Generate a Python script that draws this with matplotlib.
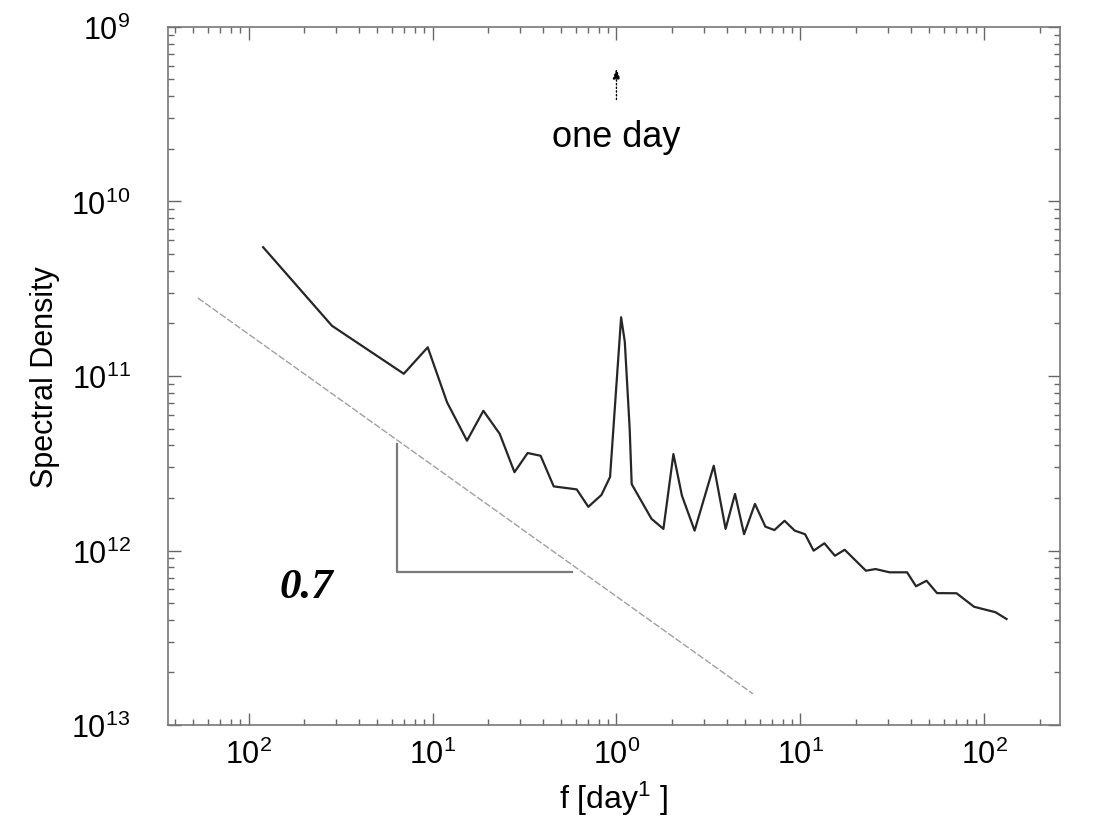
"""Spectral density vs frequency, log-log, with a 0.7 slope guide."""

import matplotlib

matplotlib.use("Agg")
import matplotlib.pyplot as plt
from matplotlib.ticker import FixedFormatter, FixedLocator, LogLocator, NullFormatter

# spectrum: frequency [1/day], spectral density
freq = [
    0.0120, 0.0284, 0.0698, 0.0942, 0.120, 0.154, 0.189, 0.232, 0.279, 0.329,
    0.387, 0.456, 0.608, 0.703, 0.828, 0.923, 0.996, 1.06, 1.11, 1.18,
    1.21, 1.55, 1.80, 2.04, 2.27, 2.66, 3.38, 3.92, 4.41, 4.94,
    5.66, 6.45, 7.22, 8.20, 9.31, 10.6, 11.8, 13.5, 15.4, 17.4,
    22.7, 25.6, 30.5, 38.0, 42.5, 48.5, 55.3, 70.6, 87.9, 115, 132,
]
density = [
    5.47e-11, 1.94e-11, 1.03e-11, 1.46e-11, 7.06e-12, 4.26e-12, 6.32e-12, 4.66e-12, 2.81e-12, 3.62e-12,
    3.49e-12, 2.33e-12, 2.24e-12, 1.78e-12, 2.08e-12, 2.64e-12, 8.43e-12, 2.17e-11, 1.57e-11, 4.97e-12,
    2.40e-12, 1.52e-12, 1.33e-12, 3.57e-12, 2.06e-12, 1.30e-12, 3.06e-12, 1.33e-12, 2.11e-12, 1.24e-12,
    1.85e-12, 1.37e-12, 1.31e-12, 1.48e-12, 1.30e-12, 1.24e-12, 9.98e-13, 1.10e-12, 9.33e-13, 1.01e-12,
    7.66e-13, 7.83e-13, 7.50e-13, 7.50e-13, 6.24e-13, 6.71e-13, 5.70e-13, 5.69e-13, 4.76e-13, 4.43e-13, 4.05e-13,
]

# power-law guide line and its slope triangle
guide_f = [0.0053, 5.52]
guide_s = [2.80e-11, 1.51e-13]
tri_f = [0.064, 0.064, 0.574]
tri_s = [4.07e-12, 7.53e-13, 7.53e-13]
slope_label = "0.7"

# tick labels as printed in the figure
xticks = [1e-2, 1e-1, 1e0, 1e1, 1e2]
xticklabels = ["$10^{2}$", "$10^{1}$", "$10^{0}$", "$10^{1}$", "$10^{2}$"]
yticks = [1e-13, 1e-12, 1e-11, 1e-10, 1e-9]
yticklabels = ["$10^{13}$", "$10^{12}$", "$10^{11}$", "$10^{10}$", "$10^{9}$"]

plt.rcParams["font.family"] = ["Liberation Sans", "DejaVu Sans"]
plt.rcParams["mathtext.fontset"] = "custom"
plt.rcParams["mathtext.rm"] = "Liberation Sans"
plt.rcParams["mathtext.it"] = "Liberation Sans:italic"
plt.rcParams["mathtext.bf"] = "Liberation Sans:bold"

fig = plt.figure(figsize=(10.94, 8.2), dpi=100)
ax = fig.add_axes([0.1536, 0.1146, 0.8154, 0.8513])

ax.plot(freq, density, color="#262626", lw=1.6)
ax.plot(guide_f, guide_s, color="#a0a0a0", lw=1.0, ls=(0, (5, 1.5)))
ax.plot(tri_f, tri_s, color="#7a7a7a", lw=1.6)
ax.text(0.0205, 6.18e-13, slope_label, family="Liberation Serif", style="italic",
        weight="bold", fontsize=31, ha="center", va="center")

# "one day" marker
ax.annotate("", xy=(1.0, 6.0e-10), xytext=(1.0, 3.7e-10),
            arrowprops=dict(arrowstyle="-|>,head_length=0.6,head_width=0.22",
                            color="black", lw=1.0, ls=":"))
ax.text(1.0, 2.37e-10, "one day", fontsize=26, ha="center", va="center")

ax.set_xscale("log")
ax.set_yscale("log")
ax.set_xlim(0.00365, 258)
ax.set_ylim(1e-13, 1e-9)

ax.xaxis.set_major_locator(FixedLocator(xticks))
ax.xaxis.set_major_formatter(FixedFormatter(xticklabels))
ax.yaxis.set_major_locator(FixedLocator(yticks))
ax.yaxis.set_major_formatter(FixedFormatter(yticklabels))
for axis in (ax.xaxis, ax.yaxis):
    axis.set_minor_locator(LogLocator(base=10, subs=range(2, 10), numticks=20))
    axis.set_minor_formatter(NullFormatter())

ax.tick_params(which="both", direction="in", top=True, right=True,
               color="#666666", width=1.0)
ax.tick_params(which="major", length=9, labelsize=22)
ax.tick_params(axis="x", which="major", pad=10)
ax.tick_params(axis="y", which="major", pad=27)
ax.tick_params(which="minor", length=4)
for sp in ax.spines.values():
    sp.set_color("#777777")
    sp.set_linewidth(1.2)

ax.set_xlabel("f [day$^{1}$ ]", fontsize=23, labelpad=6)
ax.set_ylabel("Spectral Density", fontsize=22, labelpad=8)

fig.savefig("out.png", dpi=100)
